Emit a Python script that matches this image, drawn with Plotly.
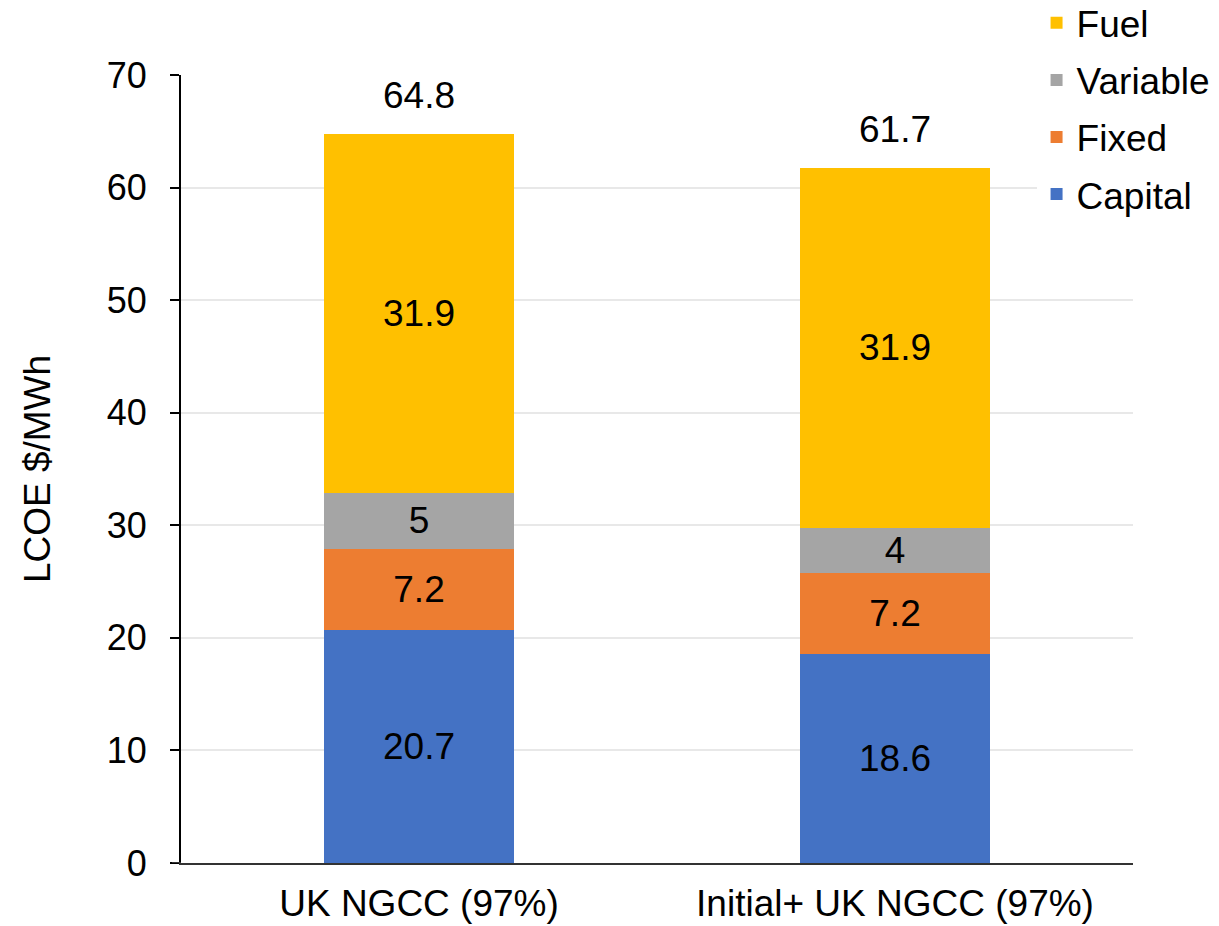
import plotly.graph_objects as go

categories = ["UK NGCC (97%)", "Initial+ UK NGCC (97%)"]
capital = [20.7, 18.6]
fixed = [7.2, 7.2]
variable = [5, 4]
fuel = [31.9, 31.9]
totals = [64.8, 61.7]

series = [
    ("Capital", capital, "#4472C4", 4),
    ("Fixed", fixed, "#ED7D31", 3),
    ("Variable", variable, "#A5A5A5", 2),
    ("Fuel", fuel, "#FFC000", 1),
]

FONT = "Liberation Sans, Arial"
FS = 37

fig = go.Figure()
for name, vals, color, rank in series:
    fig.add_trace(go.Bar(
        name=name, x=categories, y=vals, marker_color=color,
        marker_line_width=0, legendgroup=name, legendrank=rank,
        text=[f"{v:g}" for v in vals], textposition="inside",
        insidetextanchor="middle", textangle=0,
        textfont=dict(size=FS, color="black", family=FONT),
        constraintext="none",
    ))

for c, t in zip(categories, totals):
    fig.add_annotation(x=c, y=t, text=f"{t:g}", showarrow=False,
                       yanchor="bottom", yshift=16,
                       font=dict(size=FS, color="black", family=FONT))

# x-axis line extension to the left of the y-axis (Excel style)
fig.add_shape(type="line", xref="paper", yref="y", x0=-9/952, x1=0, y0=0, y1=0,
              line=dict(color="#333333", width=2))

fig.update_layout(
    barmode="stack",
    bargap=0.6,
    width=1219, height=926,
    margin=dict(l=181, r=86, t=75, b=63, autoexpand=False),
    paper_bgcolor="white", plot_bgcolor="white",
    font=dict(family=FONT, size=FS, color="black"),
    showlegend=True,
    legend=dict(traceorder="grouped", tracegroupgap=6,
                x=0.8987, y=1.105, xanchor="left", yanchor="top",
                xref="paper", yref="paper",
                font=dict(size=FS), bgcolor="rgba(255,255,255,1)",
                itemwidth=30),
)
fig.update_yaxes(
    range=[0, 70], dtick=10, showgrid=True, gridcolor="#E8E8E8", gridwidth=1.5,
    showline=True, linecolor="black", linewidth=2,
    ticks="outside", ticklen=9, tickcolor="black", tickwidth=2,
    tickfont=dict(size=36), zeroline=False, ticklabelstandoff=16,
    title=dict(text="LCOE $/MWh", font=dict(size=FS), standoff=45),
)
fig.update_xaxes(
    showline=True, linecolor="#333333", linewidth=2,
    tickfont=dict(size=FS), ticks="", ticklabelstandoff=7,
)

fig.write_html("out.html")
